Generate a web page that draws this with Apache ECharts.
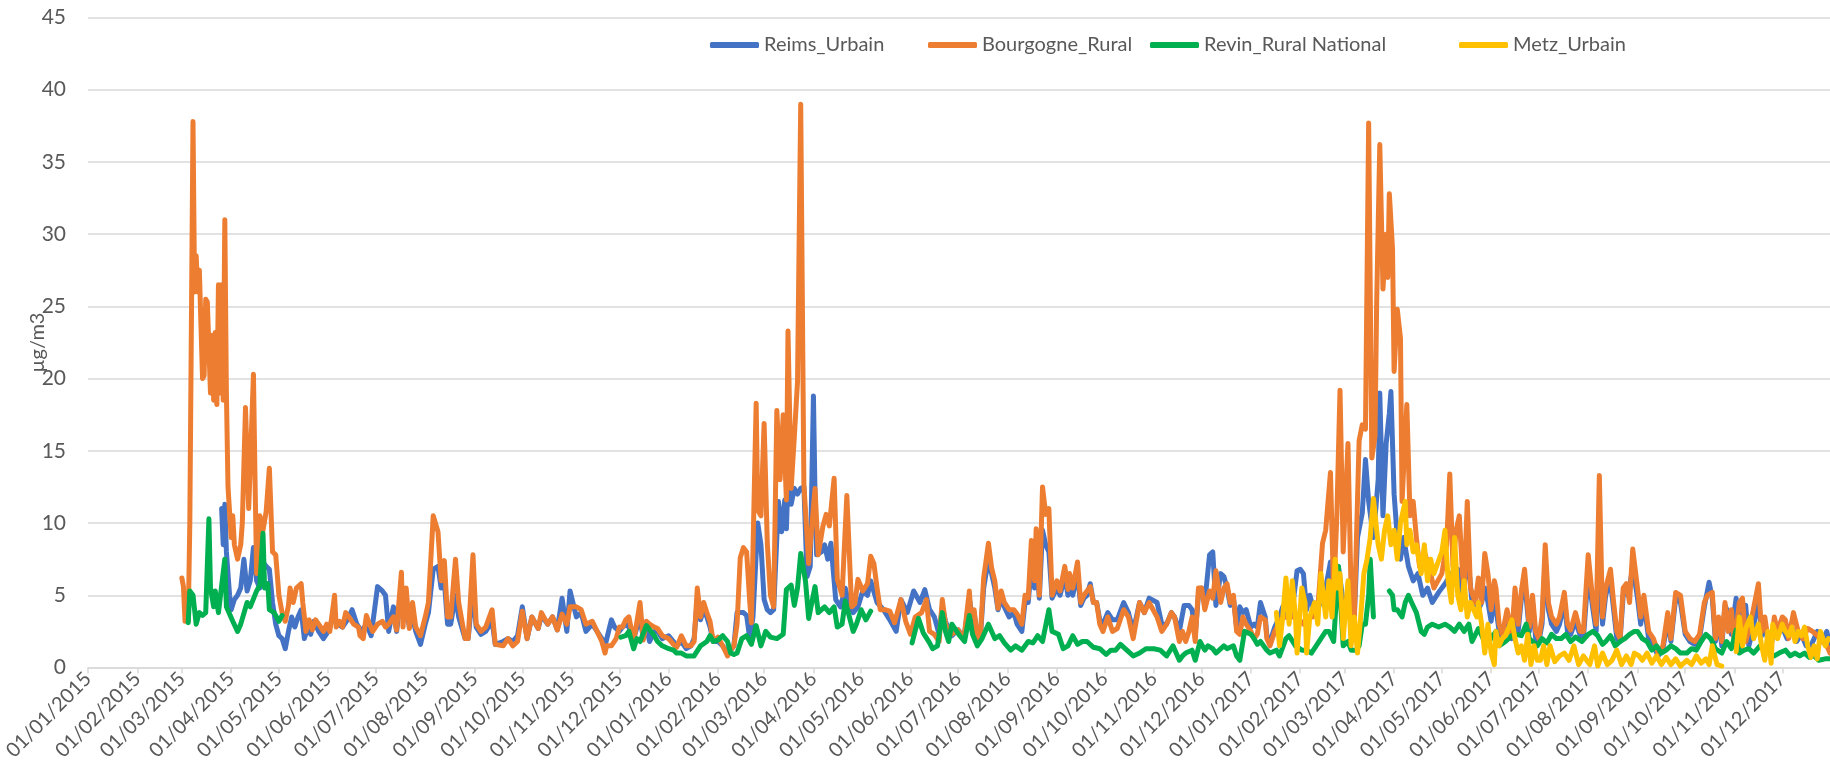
<!DOCTYPE html>
<html>
<head>
<meta charset="utf-8">
<script src="https://cdn.jsdelivr.net/npm/echarts@6/dist/echarts.min.js"></script>
<style>
  html, body { margin: 0; padding: 0; background: #fff; }
  #main { width: 1830px; height: 770px; }
</style>
</head>
<body>
<div id="main"></div>
<script>
// series names and colours, same order as the legend
var seriesNames = ['Reims_Urbain', 'Bourgogne_Rural', 'Revin_Rural National', 'Metz_Urbain'];
var seriesColors = ['#4472C4', '#ED7D31', '#00B050', '#FFC000'];

// y axis
var yMin = 0, yMax = 45, yStep = 5;

// values, [date, µg/m3]; null = gap in the record
var reims = [
  ['2015-03-26',11.0],['2015-03-27',8.5],['2015-03-28',11.3],['2015-03-29',8.0],['2015-03-31',5.0],
  ['2015-04-01',4.0],['2015-04-03',4.7],['2015-04-05',5.0],['2015-04-07',5.5],['2015-04-09',7.5],['2015-04-11',5.3],
  ['2015-04-13',6.0],['2015-04-15',8.3],['2015-04-17',6.0],['2015-04-19',5.5],['2015-04-21',7.3],['2015-04-23',7.0],
  ['2015-04-25',6.8],['2015-04-27',4.5],['2015-04-29',3.0],['2015-05-01',2.2],['2015-05-03',2.0],['2015-05-05',1.3],
  ['2015-05-07',2.5],['2015-05-09',3.5],['2015-05-11',2.8],['2015-05-13',3.5],['2015-05-15',4.0],['2015-05-17',2.0],
  ['2015-05-19',2.7],['2015-05-21',2.3],['2015-05-23',3.2],['2015-05-26',2.5],['2015-05-29',2.0],['2015-06-01',2.5],
  ['2015-06-04',3.5],['2015-06-07',3.0],['2015-06-10',2.8],['2015-06-13',3.3],['2015-06-16',4.0],['2015-06-19',3.0],
  ['2015-06-22',2.5],['2015-06-25',3.0],['2015-06-28',2.2],['2015-07-02',5.6],['2015-07-05',5.3],['2015-07-07',5.0],
  ['2015-07-09',2.5],['2015-07-12',4.2],['2015-07-14',2.5],['2015-07-17',5.5],['2015-07-20',4.5],['2015-07-22',2.8],
  ['2015-07-24',3.5],['2015-07-26',2.5],['2015-07-29',1.6],['2015-08-01',3.0],['2015-08-03',3.8],['2015-08-06',6.8],
  ['2015-08-09',7.0],['2015-08-11',5.5],['2015-08-13',6.0],['2015-08-15',3.0],['2015-08-17',3.0],['2015-08-20',5.0],
  ['2015-08-22',3.5],['2015-08-26',2.0],['2015-08-28',2.0],['2015-08-31',5.5],['2015-09-02',2.8],['2015-09-05',2.3],
  ['2015-09-08',2.5],['2015-09-12',3.2],['2015-09-14',1.6],['2015-09-19',1.8],['2015-09-22',2.0],['2015-09-25',1.8],
  ['2015-09-28',2.2],['2015-10-01',4.2],['2015-10-04',2.0],['2015-10-07',3.5],['2015-10-11',2.7],['2015-10-13',3.6],
  ['2015-10-17',3.0],['2015-10-20',3.5],['2015-10-23',2.6],['2015-10-26',4.8],['2015-10-29',2.5],['2015-10-31',5.3],
  ['2015-11-04',3.5],['2015-11-07',3.8],['2015-11-10',2.5],['2015-11-14',3.0],['2015-11-17',2.5],['2015-11-20',2.0],
  ['2015-11-22',1.5],['2015-11-26',3.3],['2015-11-28',2.8],['2015-12-01',2.5],['2015-12-03',2.8],['2015-12-05',3.0],
  ['2015-12-07',2.8],['2015-12-10',2.0],['2015-12-14',3.5],['2015-12-16',2.0],['2015-12-18',2.8],['2015-12-20',1.8],
  ['2015-12-23',2.5],['2015-12-25',2.5],['2015-12-28',2.0],
  ['2016-01-01',2.2],['2016-01-04',1.8],['2016-01-06',1.5],['2016-01-09',1.8],['2016-01-12',1.3],['2016-01-15',1.5],
  ['2016-01-17',2.0],['2016-01-19',4.8],['2016-01-21',3.3],['2016-01-23',4.0],['2016-01-25',3.5],['2016-01-27',2.8],
  ['2016-01-29',1.8],['2016-02-01',1.8],['2016-02-04',1.5],['2016-02-07',1.0],['2016-02-09',1.2],['2016-02-11',1.5],
  ['2016-02-13',3.8],['2016-02-15',3.8],['2016-02-17',3.8],['2016-02-19',3.6],['2016-02-21',2.0],['2016-02-23',3.5],
  ['2016-02-26',10.0],['2016-02-28',8.5],['2016-03-01',4.7],['2016-03-03',4.0],['2016-03-05',3.8],['2016-03-07',4.0],
  ['2016-03-10',11.5],['2016-03-12',9.4],['2016-03-14',11.6],['2016-03-15',9.6],['2016-03-16',13.0],['2016-03-18',11.3],
  ['2016-03-20',12.4],['2016-03-22',12.0],['2016-03-24',12.4],['2016-03-26',12.5],['2016-03-28',6.3],['2016-03-30',7.0],
  ['2016-04-01',18.8],['2016-04-02',12.0],['2016-04-03',7.8],['2016-04-06',8.0],['2016-04-08',8.5],['2016-04-10',7.5],
  ['2016-04-12',8.6],['2016-04-15',4.7],['2016-04-18',4.2],['2016-04-21',5.5],['2016-04-23',4.5],['2016-04-26',3.8],
  ['2016-04-29',4.2],['2016-05-02',5.3],['2016-05-05',5.0],['2016-05-07',6.0],['2016-05-11',4.5],['2016-05-15',4.0],
  ['2016-05-19',3.3],['2016-05-23',2.5],['2016-05-26',4.7],['2016-05-30',3.8],['2016-06-03',5.3],['2016-06-07',4.5],
  ['2016-06-10',5.4],['2016-06-13',4.0],['2016-06-16',3.5],['2016-06-19',2.3],['2016-06-21',4.2],['2016-06-23',3.2],
  ['2016-06-25',2.6],['2016-06-27',2.2],['2016-07-01',2.6],['2016-07-03',2.3],['2016-07-05',2.3],['2016-07-08',4.8],
  ['2016-07-10',3.3],['2016-07-11',3.8],['2016-07-13',2.0],['2016-07-15',2.2],['2016-07-17',5.5],['2016-07-20',7.5],
  ['2016-07-22',6.5],['2016-07-24',5.5],['2016-07-26',4.0],['2016-07-28',4.8],['2016-07-30',4.2],['2016-08-02',3.5],
  ['2016-08-05',3.8],['2016-08-07',3.0],['2016-08-10',2.5],['2016-08-12',4.5],['2016-08-14',4.5],['2016-08-16',7.0],
  ['2016-08-18',5.5],['2016-08-19',8.0],['2016-08-21',4.8],['2016-08-23',9.5],['2016-08-25',8.5],['2016-08-27',8.0],
  ['2016-08-29',4.8],['2016-09-01',5.5],['2016-09-03',5.0],['2016-09-06',6.3],['2016-09-08',5.0],['2016-09-09',6.0],
  ['2016-09-11',5.0],['2016-09-14',6.5],['2016-09-16',4.3],['2016-09-18',4.8],['2016-09-20',5.0],['2016-09-22',5.8],
  ['2016-09-24',4.5],['2016-09-26',4.5],['2016-09-28',3.3],['2016-09-30',3.0],['2016-10-03',3.8],['2016-10-06',3.3],
  ['2016-10-09',3.3],['2016-10-13',4.5],['2016-10-16',3.8],['2016-10-19',2.5],['2016-10-23',4.5],['2016-10-26',3.8],
  ['2016-10-29',4.8],['2016-11-03',4.5],['2016-11-06',3.0],['2016-11-09',3.0],['2016-11-12',3.8],['2016-11-14',3.5],
  ['2016-11-17',2.5],['2016-11-20',4.3],['2016-11-23',4.3],['2016-11-25',4.0],['2016-11-27',2.3],['2016-11-29',5.0],
  ['2016-12-01',5.5],['2016-12-03',4.5],['2016-12-06',7.8],['2016-12-08',8.0],['2016-12-10',4.3],['2016-12-13',6.5],
  ['2016-12-15',6.3],['2016-12-17',5.5],['2016-12-19',4.3],['2016-12-21',4.8],['2016-12-23',2.8],['2016-12-25',4.2],
  ['2016-12-27',3.8],['2016-12-29',4.0],
  ['2017-01-01',2.8],['2017-01-03',3.0],['2017-01-05',2.8],['2017-01-07',4.5],['2017-01-10',3.5],['2017-01-11',2.2],
  ['2017-01-13',1.8],['2017-01-16',2.8],['2017-01-19',3.5],['2017-01-21',4.2],['2017-01-23',3.5],['2017-01-25',3.5],
  ['2017-01-27',4.0],['2017-01-30',6.7],['2017-02-01',6.8],['2017-02-03',6.5],['2017-02-05',4.0],['2017-02-07',5.0],
  ['2017-02-09',4.2],['2017-02-12',4.0],['2017-02-15',5.0],['2017-02-17',5.5],['2017-02-20',7.3],['2017-02-22',5.5],
  ['2017-02-25',7.0],['2017-02-28',4.5],['2017-03-03',4.5],['2017-03-05',4.0],['2017-03-07',3.5],['2017-03-09',9.0],
  ['2017-03-12',10.7],['2017-03-14',14.4],['2017-03-16',11.5],['2017-03-19',9.0],['2017-03-22',13.0],['2017-03-23',19.0],
  ['2017-03-25',10.5],['2017-03-27',15.5],['2017-03-29',17.6],['2017-03-30',19.1],['2017-04-01',12.0],['2017-04-03',9.0],
  ['2017-04-05',7.5],['2017-04-07',9.0],['2017-04-10',7.0],['2017-04-13',6.0],['2017-04-16',6.5],['2017-04-19',5.0],
  ['2017-04-22',5.5],['2017-04-25',4.5],['2017-04-29',5.2],['2017-05-03',5.8],['2017-05-07',6.5],['2017-05-11',6.8],
  ['2017-05-14',4.5],['2017-05-17',8.0],['2017-05-20',4.5],['2017-05-24',4.0],['2017-05-26',4.5],['2017-05-28',5.5],
  ['2017-05-30',4.5],['2017-06-01',3.2],['2017-06-03',5.0],['2017-06-06',2.5],['2017-06-08',2.0],['2017-06-11',3.5],
  ['2017-06-14',2.0],['2017-06-16',4.8],['2017-06-18',2.5],['2017-06-20',4.8],['2017-06-22',6.0],['2017-06-25',2.5],
  ['2017-06-27',4.5],['2017-06-29',2.0],['2017-07-01',1.8],['2017-07-03',3.0],['2017-07-05',7.5],['2017-07-07',4.0],
  ['2017-07-09',3.0],['2017-07-12',2.5],['2017-07-14',3.0],['2017-07-17',4.5],['2017-07-19',2.5],['2017-07-21',2.3],
  ['2017-07-24',3.2],['2017-07-27',2.2],['2017-07-29',2.0],['2017-08-01',6.5],['2017-08-04',4.0],['2017-08-06',2.5],
  ['2017-08-08',8.0],['2017-08-10',3.0],['2017-08-12',5.0],['2017-08-15',6.0],['2017-08-17',4.0],['2017-08-19',2.0],
  ['2017-08-21',1.8],['2017-08-23',5.0],['2017-08-25',5.2],['2017-08-27',5.5],['2017-08-29',7.0],['2017-09-01',4.8],
  ['2017-09-03',3.0],['2017-09-05',4.5],['2017-09-08',2.0],['2017-09-11',1.5],['2017-09-14',0.8],['2017-09-17',1.3],
  ['2017-09-20',3.3],['2017-09-22',1.8],['2017-09-25',4.8],['2017-09-28',4.5],['2017-10-01',2.3],['2017-10-04',1.8],
  ['2017-10-07',1.6],['2017-10-10',2.0],['2017-10-13',4.2],['2017-10-16',5.9],['2017-10-18',4.8],['2017-10-20',1.8],
  ['2017-10-22',3.3],['2017-10-24',1.5],['2017-10-26',4.3],['2017-10-28',3.8],['2017-10-30',2.3],['2017-11-02',4.8],
  ['2017-11-04',1.3],['2017-11-06',4.0],['2017-11-08',4.3],['2017-11-10',1.5],['2017-11-13',2.8],['2017-11-16',5.0],
  ['2017-11-18',2.2],['2017-11-20',3.0],['2017-11-22',1.8],['2017-11-24',1.5],['2017-11-26',3.0],['2017-11-28',2.3],
  ['2017-12-01',2.8],['2017-12-04',2.0],['2017-12-07',2.8],['2017-12-10',1.8],['2017-12-13',2.3],['2017-12-16',1.5],
  ['2017-12-19',1.5],['2017-12-23',2.5],['2017-12-26',1.8],['2017-12-29',2.5],['2017-12-31',1.5]
];

var bourgogne = [
  ['2015-03-01',6.2],['2015-03-02',5.6],['2015-03-03',3.2],['2015-03-05',3.2],['2015-03-06',10.0],['2015-03-08',37.8],
  ['2015-03-09',26.0],['2015-03-10',28.5],['2015-03-11',26.0],['2015-03-12',27.5],['2015-03-14',20.0],['2015-03-15',20.2],
  ['2015-03-16',25.5],['2015-03-17',25.3],['2015-03-19',19.0],['2015-03-20',23.0],['2015-03-21',18.5],['2015-03-22',23.2],
  ['2015-03-23',18.2],['2015-03-24',26.5],['2015-03-25',19.0],['2015-03-26',26.5],['2015-03-27',18.5],['2015-03-28',31.0],
  ['2015-03-29',19.0],['2015-03-30',12.5],['2015-04-01',9.0],['2015-04-02',10.5],['2015-04-03',8.5],['2015-04-05',7.5],
  ['2015-04-07',8.5],['2015-04-08',10.0],['2015-04-10',18.0],['2015-04-12',11.0],['2015-04-13',14.0],['2015-04-15',20.3],
  ['2015-04-16',13.0],['2015-04-17',6.5],['2015-04-19',10.5],['2015-04-21',9.5],['2015-04-23',10.8],['2015-04-25',13.8],
  ['2015-04-27',8.0],['2015-04-29',7.8],['2015-05-01',5.0],['2015-05-03',3.8],['2015-05-05',3.2],['2015-05-07',4.3],
  ['2015-05-08',5.5],['2015-05-10',4.5],['2015-05-12',5.5],['2015-05-15',5.8],['2015-05-16',4.5],['2015-05-18',2.5],
  ['2015-05-20',3.3],['2015-05-22',2.6],['2015-05-24',3.3],['2015-05-26',3.0],['2015-05-29',2.5],['2015-05-31',3.0],
  ['2015-06-02',2.5],['2015-06-05',5.0],['2015-06-06',2.8],['2015-06-08',3.2],['2015-06-10',2.8],['2015-06-12',3.8],
  ['2015-06-14',3.5],['2015-06-17',3.0],['2015-06-20',2.8],['2015-06-21',2.2],['2015-06-23',2.0],['2015-06-25',3.6],
  ['2015-06-27',3.0],['2015-06-29',2.5],['2015-07-02',3.0],['2015-07-05',3.2],['2015-07-07',2.8],['2015-07-09',3.0],
  ['2015-07-12',3.5],['2015-07-14',2.6],['2015-07-17',6.6],['2015-07-18',2.8],['2015-07-20',5.5],['2015-07-22',2.7],
  ['2015-07-24',4.5],['2015-07-26',2.8],['2015-07-29',2.2],['2015-08-01',3.5],['2015-08-03',4.5],['2015-08-06',10.5],
  ['2015-08-09',9.4],['2015-08-11',6.0],['2015-08-13',7.4],['2015-08-15',3.5],['2015-08-17',3.5],['2015-08-20',7.5],
  ['2015-08-22',4.5],['2015-08-26',2.0],['2015-08-28',2.0],['2015-08-31',7.8],['2015-09-02',3.0],['2015-09-05',2.5],
  ['2015-09-08',2.8],['2015-09-12',4.0],['2015-09-14',1.6],['2015-09-19',1.5],['2015-09-22',2.0],['2015-09-25',1.5],
  ['2015-09-28',1.8],['2015-10-01',3.9],['2015-10-04',2.0],['2015-10-07',3.5],['2015-10-11',2.7],['2015-10-13',3.8],
  ['2015-10-17',3.0],['2015-10-20',3.5],['2015-10-23',2.6],['2015-10-26',3.7],['2015-10-29',3.0],['2015-10-31',4.2],
  ['2015-11-04',4.2],['2015-11-07',4.0],['2015-11-10',3.0],['2015-11-14',3.2],['2015-11-17',2.5],['2015-11-20',1.8],
  ['2015-11-22',1.0],['2015-11-23',1.5],['2015-11-26',1.5],['2015-11-29',2.0],['2015-12-01',2.8],['2015-12-03',2.8],
  ['2015-12-05',3.3],['2015-12-07',3.5],['2015-12-10',1.8],['2015-12-14',4.5],['2015-12-16',1.9],['2015-12-18',3.2],
  ['2015-12-20',3.0],['2015-12-23',2.8],['2015-12-25',2.7],['2015-12-28',2.2],
  ['2016-01-01',2.0],['2016-01-04',1.6],['2016-01-06',1.4],['2016-01-09',2.2],['2016-01-12',1.5],['2016-01-15',1.5],
  ['2016-01-17',1.8],['2016-01-19',5.5],['2016-01-21',3.5],['2016-01-23',4.5],['2016-01-25',3.8],['2016-01-27',3.2],
  ['2016-01-29',1.8],['2016-02-01',2.1],['2016-02-04',1.5],['2016-02-07',0.8],['2016-02-09',1.2],['2016-02-11',1.5],
  ['2016-02-13',3.0],['2016-02-15',7.6],['2016-02-17',8.3],['2016-02-19',8.0],['2016-02-21',4.5],['2016-02-22',3.1],
  ['2016-02-25',18.3],['2016-02-26',10.9],['2016-02-28',10.5],['2016-03-01',16.9],['2016-03-03',8.6],['2016-03-05',5.0],
  ['2016-03-07',4.2],['2016-03-09',17.8],['2016-03-11',13.0],['2016-03-13',17.5],['2016-03-15',11.6],['2016-03-16',23.3],
  ['2016-03-18',12.4],['2016-03-20',16.0],['2016-03-22',19.8],['2016-03-24',39.0],['2016-03-26',12.7],['2016-03-29',7.2],
  ['2016-04-02',12.4],['2016-04-04',7.8],['2016-04-07',9.8],['2016-04-09',10.6],['2016-04-11',9.8],['2016-04-14',13.1],
  ['2016-04-16',6.1],['2016-04-19',5.0],['2016-04-22',11.9],['2016-04-25',4.2],['2016-04-27',4.4],['2016-04-29',6.1],
  ['2016-05-02',5.3],['2016-05-05',5.8],['2016-05-07',7.7],['2016-05-09',7.2],['2016-05-11',5.5],['2016-05-13',4.0],
  ['2016-05-16',4.0],['2016-05-19',3.9],['2016-05-22',3.1],['2016-05-26',4.7],['2016-05-29',3.2],['2016-06-01',2.3],
  ['2016-06-04',3.5],['2016-06-08',3.8],['2016-06-11',4.7],['2016-06-13',2.5],['2016-06-16',2.3],['2016-06-19',1.8],
  ['2016-06-21',4.7],['2016-06-23',3.0],['2016-06-25',2.5],['2016-06-27',2.3],['2016-07-01',2.6],['2016-07-03',2.2],
  ['2016-07-05',2.4],['2016-07-08',5.3],['2016-07-09',3.5],['2016-07-11',4.0],['2016-07-13',2.0],['2016-07-15',2.3],
  ['2016-07-17',6.2],['2016-07-20',8.6],['2016-07-22',6.9],['2016-07-24',6.0],['2016-07-26',4.1],['2016-07-28',5.3],
  ['2016-07-30',4.5],['2016-08-02',4.0],['2016-08-05',4.0],['2016-08-07',3.7],['2016-08-10',3.0],['2016-08-12',5.0],
  ['2016-08-14',4.8],['2016-08-16',8.8],['2016-08-18',6.0],['2016-08-19',9.6],['2016-08-21',5.0],['2016-08-23',12.5],
  ['2016-08-25',10.6],['2016-08-27',11.0],['2016-08-29',5.0],['2016-09-01',6.0],['2016-09-03',5.3],['2016-09-06',7.0],
  ['2016-09-08',5.4],['2016-09-09',6.5],['2016-09-11',5.5],['2016-09-14',7.3],['2016-09-16',4.5],['2016-09-18',5.0],
  ['2016-09-22',5.6],['2016-09-24',4.5],['2016-09-26',4.5],['2016-09-28',3.0],['2016-09-30',2.5],['2016-10-03',3.5],
  ['2016-10-06',2.5],['2016-10-09',2.7],['2016-10-13',4.0],['2016-10-16',3.5],['2016-10-19',2.0],['2016-10-23',4.5],
  ['2016-10-26',3.8],['2016-10-29',4.5],['2016-11-03',3.5],['2016-11-06',2.5],['2016-11-09',3.0],['2016-11-12',3.8],
  ['2016-11-14',3.5],['2016-11-17',1.8],['2016-11-19',2.5],['2016-11-21',1.8],['2016-11-23',2.5],['2016-11-25',3.5],
  ['2016-11-27',1.8],['2016-11-29',5.5],['2016-12-01',5.5],['2016-12-03',4.0],['2016-12-06',5.3],['2016-12-08',4.8],
  ['2016-12-10',6.7],['2016-12-13',4.5],['2016-12-15',5.5],['2016-12-17',5.8],['2016-12-19',4.5],['2016-12-21',5.0],
  ['2016-12-23',2.5],['2016-12-25',2.3],['2016-12-27',3.5],['2016-12-29',3.0],
  ['2017-01-01',2.5],['2017-01-03',2.0],['2017-01-05',2.3],['2017-01-07',3.5],['2017-01-10',3.3],['2017-01-11',2.0],
  ['2017-01-13',1.5],['2017-01-16',2.5],['2017-01-21',3.5],['2017-01-25',3.5],['2017-01-30',3.5],['2017-02-03',3.0],
  ['2017-02-06',3.5],['2017-02-09',3.5],['2017-02-12',4.0],['2017-02-15',8.6],['2017-02-17',9.5],['2017-02-20',13.5],
  ['2017-02-22',5.0],['2017-02-24',10.5],['2017-02-26',19.2],['2017-02-28',8.0],['2017-03-03',15.5],['2017-03-05',5.0],
  ['2017-03-07',3.5],['2017-03-10',15.7],['2017-03-12',16.8],['2017-03-14',16.5],['2017-03-16',37.7],['2017-03-18',14.5],
  ['2017-03-20',16.0],['2017-03-21',25.0],['2017-03-23',36.2],['2017-03-25',26.2],['2017-03-27',30.0],['2017-03-28',27.0],
  ['2017-03-29',32.8],['2017-03-31',29.0],['2017-04-01',20.5],['2017-04-03',24.8],['2017-04-05',22.8],['2017-04-06',11.5],
  ['2017-04-09',18.2],['2017-04-11',10.5],['2017-04-13',11.5],['2017-04-15',9.0],['2017-04-17',7.0],['2017-04-20',8.0],
  ['2017-04-23',7.0],['2017-04-26',5.5],['2017-05-01',6.5],['2017-05-04',8.5],['2017-05-06',13.4],['2017-05-08',7.0],
  ['2017-05-10',9.5],['2017-05-12',10.5],['2017-05-14',6.5],['2017-05-15',5.5],['2017-05-17',11.5],['2017-05-19',5.5],
  ['2017-05-22',4.5],['2017-05-24',6.2],['2017-05-26',4.5],['2017-05-28',7.9],['2017-05-30',6.5],['2017-06-01',4.0],
  ['2017-06-03',6.0],['2017-06-04',5.5],['2017-06-06',3.0],['2017-06-08',2.3],['2017-06-11',4.0],['2017-06-14',2.2],
  ['2017-06-16',5.5],['2017-06-18',3.0],['2017-06-20',5.3],['2017-06-22',6.8],['2017-06-25',2.8],['2017-06-27',5.0],
  ['2017-06-29',2.5],['2017-07-01',2.0],['2017-07-03',3.5],['2017-07-05',8.5],['2017-07-07',4.5],['2017-07-09',3.5],
  ['2017-07-12',3.0],['2017-07-14',3.5],['2017-07-17',5.2],['2017-07-19',3.0],['2017-07-21',2.6],['2017-07-24',3.8],
  ['2017-07-27',2.5],['2017-07-29',2.5],['2017-08-01',7.8],['2017-08-04',4.5],['2017-08-06',3.0],['2017-08-08',13.3],
  ['2017-08-10',3.5],['2017-08-12',5.5],['2017-08-15',6.8],['2017-08-17',4.5],['2017-08-19',2.5],['2017-08-21',2.0],
  ['2017-08-23',5.5],['2017-08-25',5.8],['2017-08-27',4.5],['2017-08-29',8.2],['2017-09-01',5.5],['2017-09-03',3.5],
  ['2017-09-05',5.0],['2017-09-08',2.5],['2017-09-11',2.0],['2017-09-14',1.0],['2017-09-17',1.5],['2017-09-20',3.8],
  ['2017-09-22',2.0],['2017-09-25',5.2],['2017-09-28',5.0],['2017-10-01',2.5],['2017-10-04',2.0],['2017-10-07',1.8],
  ['2017-10-10',2.3],['2017-10-13',4.5],['2017-10-15',5.0],['2017-10-18',5.2],['2017-10-20',2.0],['2017-10-22',3.5],
  ['2017-10-24',1.8],['2017-10-26',4.5],['2017-10-28',2.5],['2017-10-30',4.0],['2017-11-01',1.5],['2017-11-04',4.5],
  ['2017-11-06',4.8],['2017-11-08',1.8],['2017-11-11',3.0],['2017-11-16',5.8],['2017-11-18',2.5],['2017-11-20',3.5],
  ['2017-11-22',2.0],['2017-11-24',1.5],['2017-11-26',3.5],['2017-11-28',2.5],['2017-12-01',3.5],['2017-12-03',3.3],
  ['2017-12-05',2.0],['2017-12-08',3.8],['2017-12-11',2.5],['2017-12-14',2.0],['2017-12-17',2.7],['2017-12-20',2.5],
  ['2017-12-23',2.2],['2017-12-26',1.8],['2017-12-29',1.5],['2017-12-31',1.0]
];

var revin = [
  ['2015-03-05',3.1],['2015-03-06',5.3],['2015-03-08',5.0],['2015-03-10',3.0],['2015-03-12',3.8],['2015-03-14',3.6],
  ['2015-03-16',3.8],['2015-03-18',10.3],['2015-03-19',5.5],['2015-03-21',4.2],['2015-03-22',5.3],['2015-03-24',3.8],
  ['2015-03-28',7.5],['2015-03-29',4.2],['2015-04-02',3.2],['2015-04-05',2.5],['2015-04-07',3.0],['2015-04-11',4.5],
  ['2015-04-13',4.2],['2015-04-17',5.3],['2015-04-19',5.7],['2015-04-21',9.3],['2015-04-22',5.5],['2015-04-24',5.8],
  ['2015-04-25',4.0],['2015-04-28',3.8],['2015-05-01',3.2],['2015-05-03',3.6],['2015-05-04',null],
  ['2015-12-02',2.1],['2015-12-05',2.2],['2015-12-07',2.5],['2015-12-10',1.3],['2015-12-12',2.0],['2015-12-14',1.8],
  ['2015-12-18',2.9],['2015-12-23',2.2],['2015-12-25',1.8],['2015-12-28',1.5],
  ['2016-01-01',1.3],['2016-01-04',1.2],['2016-01-06',1.0],['2016-01-09',1.0],['2016-01-12',0.8],['2016-01-15',0.8],
  ['2016-01-17',0.8],['2016-01-21',1.5],['2016-01-25',1.8],['2016-01-27',2.2],['2016-01-29',1.8],['2016-02-01',1.9],
  ['2016-02-04',2.2],['2016-02-07',1.8],['2016-02-09',1.0],['2016-02-11',0.9],['2016-02-13',1.0],['2016-02-16',2.0],
  ['2016-02-19',2.2],['2016-02-22',1.6],['2016-02-25',2.9],['2016-02-28',1.5],['2016-03-02',2.5],['2016-03-05',2.1],
  ['2016-03-09',2.0],['2016-03-13',2.3],['2016-03-15',5.4],['2016-03-18',5.7],['2016-03-20',4.3],['2016-03-22',5.5],
  ['2016-03-24',7.9],['2016-03-27',6.0],['2016-03-29',3.4],['2016-04-02',5.6],['2016-04-04',3.8],['2016-04-08',4.2],
  ['2016-04-11',3.8],['2016-04-14',4.2],['2016-04-16',2.8],['2016-04-19',3.0],['2016-04-21',4.6],['2016-04-26',2.5],
  ['2016-04-28',3.0],['2016-05-01',4.0],['2016-05-04',3.3],['2016-05-07',3.9],['2016-05-08',null],
  ['2016-06-02',1.7],['2016-06-06',3.4],['2016-06-09',2.4],['2016-06-13',1.7],['2016-06-15',1.3],['2016-06-18',1.5],
  ['2016-06-21',3.8],['2016-06-23',2.5],['2016-06-25',1.8],['2016-06-27',3.0],['2016-07-02',2.2],['2016-07-05',1.8],
  ['2016-07-08',3.6],['2016-07-10',2.3],['2016-07-13',1.5],['2016-07-16',2.0],['2016-07-20',3.0],['2016-07-24',2.0],
  ['2016-07-27',2.2],['2016-07-30',1.7],['2016-08-03',1.2],['2016-08-06',1.5],['2016-08-10',1.2],['2016-08-14',1.8],
  ['2016-08-17',1.7],['2016-08-20',2.2],['2016-08-23',1.8],['2016-08-27',4.0],['2016-08-29',2.5],['2016-09-02',2.3],
  ['2016-09-05',1.3],['2016-09-08',1.5],['2016-09-11',2.2],['2016-09-14',1.6],['2016-09-17',1.8],['2016-09-20',1.8],
  ['2016-09-24',1.4],['2016-09-28',1.3],['2016-10-02',0.9],['2016-10-05',1.2],['2016-10-08',1.2],['2016-10-11',1.6],
  ['2016-10-15',1.2],['2016-10-19',0.8],['2016-10-23',1.0],['2016-10-27',1.3],['2016-11-01',1.3],['2016-11-05',1.2],
  ['2016-11-09',0.8],['2016-11-13',1.5],['2016-11-17',0.5],['2016-11-19',0.8],['2016-11-21',1.0],['2016-11-25',1.2],
  ['2016-11-27',0.5],['2016-11-30',1.8],['2016-12-03',1.2],['2016-12-05',1.5],['2016-12-08',1.3],['2016-12-10',1.0],
  ['2016-12-15',1.5],['2016-12-17',1.3],['2016-12-21',1.5],['2016-12-23',0.8],['2016-12-25',0.5],['2016-12-28',2.5],
  ['2017-01-01',2.3],['2017-01-03',2.0],['2017-01-05',1.6],['2017-01-07',1.8],['2017-01-11',1.2],['2017-01-13',1.0],
  ['2017-01-17',1.2],['2017-01-19',0.8],['2017-01-23',2.0],['2017-01-25',2.2],['2017-01-29',1.5],['2017-02-02',1.2],
  ['2017-02-05',1.2],['2017-02-08',1.0],['2017-02-11',1.5],['2017-02-14',2.0],['2017-02-17',2.5],['2017-02-19',2.5],
  ['2017-02-22',1.8],['2017-02-25',7.0],['2017-02-28',1.5],['2017-03-03',1.8],['2017-03-05',1.2],['2017-03-08',1.2],
  ['2017-03-10',1.5],['2017-03-12',3.0],['2017-03-14',3.0],['2017-03-16',5.0],['2017-03-17',7.5],['2017-03-18',5.5],
  ['2017-03-19',3.5],['2017-03-20',null],
  ['2017-03-29',5.3],['2017-03-31',5.0],['2017-04-01',4.0],['2017-04-03',4.0],['2017-04-06',3.5],['2017-04-08',4.5],
  ['2017-04-10',5.0],['2017-04-12',4.5],['2017-04-15',3.8],['2017-04-18',2.5],['2017-04-20',2.3],['2017-04-22',2.8],
  ['2017-04-25',3.0],['2017-04-29',2.8],['2017-05-03',3.0],['2017-05-06',2.8],['2017-05-09',2.5],['2017-05-12',3.0],
  ['2017-05-15',2.5],['2017-05-18',3.0],['2017-05-20',1.8],['2017-05-24',2.7],['2017-05-27',2.0],['2017-05-30',2.5],
  ['2017-06-01',2.0],['2017-06-04',2.5],['2017-06-06',1.5],['2017-06-10',1.8],['2017-06-14',2.2],['2017-06-17',2.3],
  ['2017-06-20',2.2],['2017-06-23',3.0],['2017-06-25',2.0],['2017-06-27',1.8],['2017-06-30',1.5],['2017-07-03',2.0],
  ['2017-07-06',1.7],['2017-07-09',2.3],['2017-07-12',2.0],['2017-07-15',2.0],['2017-07-18',2.3],['2017-07-21',1.8],
  ['2017-07-24',2.1],['2017-07-28',1.8],['2017-08-01',2.3],['2017-08-04',2.5],['2017-08-07',2.2],['2017-08-10',1.6],
  ['2017-08-12',1.8],['2017-08-15',2.2],['2017-08-18',1.5],['2017-08-21',1.8],['2017-08-24',2.0],['2017-08-27',2.3],
  ['2017-08-30',2.5],['2017-09-01',2.5],['2017-09-04',2.0],['2017-09-07',1.8],['2017-09-10',1.2],['2017-09-13',1.5],
  ['2017-09-16',1.0],['2017-09-19',1.2],['2017-09-22',1.5],['2017-09-25',1.3],['2017-09-28',1.0],['2017-10-02',1.0],
  ['2017-10-05',1.3],['2017-10-08',1.2],['2017-10-11',1.8],['2017-10-14',2.3],['2017-10-17',2.0],['2017-10-20',1.3],
  ['2017-10-24',1.0],['2017-10-27',1.8],['2017-10-30',1.3],['2017-11-02',2.6],['2017-11-04',1.0],['2017-11-07',1.2],
  ['2017-11-10',1.3],['2017-11-13',1.0],['2017-11-17',1.5],['2017-11-20',1.2],['2017-11-23',1.0],['2017-11-26',0.8],
  ['2017-11-29',1.0],['2017-12-03',1.2],['2017-12-06',0.8],['2017-12-09',1.0],['2017-12-12',0.8],['2017-12-15',1.0],
  ['2017-12-18',0.7],['2017-12-21',0.8],['2017-12-24',0.5],['2017-12-28',0.6],['2017-12-31',0.6]
];

var metz = [
  ['2017-01-17',3.8],['2017-01-19',1.5],['2017-01-21',3.5],['2017-01-23',6.2],['2017-01-25',3.0],['2017-01-27',6.0],
  ['2017-01-29',3.5],['2017-01-30',1.0],['2017-02-02',5.5],['2017-02-04',4.5],['2017-02-05',1.0],['2017-02-07',3.5],
  ['2017-02-10',4.5],['2017-02-12',3.0],['2017-02-14',6.5],['2017-02-16',4.5],['2017-02-17',3.5],['2017-02-19',6.0],
  ['2017-02-21',3.5],['2017-02-23',7.5],['2017-02-24',5.5],['2017-02-26',6.5],['2017-02-28',2.0],['2017-03-03',6.0],
  ['2017-03-05',1.5],['2017-03-07',3.5],['2017-03-09',1.0],['2017-03-11',3.5],['2017-03-13',6.5],['2017-03-15',7.5],
  ['2017-03-17',9.0],['2017-03-19',11.7],['2017-03-22',8.5],['2017-03-24',7.5],['2017-03-26',9.5],['2017-03-28',10.5],
  ['2017-03-30',8.5],['2017-04-01',9.5],['2017-04-03',7.5],['2017-04-05',10.0],['2017-04-08',11.5],['2017-04-09',8.5],
  ['2017-04-11',9.5],['2017-04-13',8.0],['2017-04-15',8.5],['2017-04-18',6.5],['2017-04-20',8.5],['2017-04-22',6.0],
  ['2017-04-24',7.5],['2017-04-26',6.5],['2017-05-01',8.0],['2017-05-03',9.5],['2017-05-05',6.0],['2017-05-07',4.5],
  ['2017-05-09',9.0],['2017-05-11',5.0],['2017-05-13',4.0],['2017-05-15',6.0],['2017-05-17',3.5],['2017-05-19',4.5],
  ['2017-05-23',3.5],['2017-05-24',4.5],['2017-05-26',3.0],['2017-05-28',1.0],['2017-05-30',3.0],['2017-06-01',1.0],
  ['2017-06-03',0.2],['2017-06-04',2.5],['2017-06-06',1.5],['2017-06-08',2.0],['2017-06-10',2.2],['2017-06-13',3.0],
  ['2017-06-14',3.3],['2017-06-16',2.0],['2017-06-18',1.0],['2017-06-20',1.5],['2017-06-22',0.5],['2017-06-24',2.3],
  ['2017-06-26',0.2],['2017-06-28',1.5],['2017-06-30',0.5],['2017-07-02',0.5],['2017-07-04',1.5],['2017-07-06',0.2],
  ['2017-07-08',1.5],['2017-07-11',0.4],['2017-07-14',0.8],['2017-07-17',1.0],['2017-07-20',0.5],['2017-07-23',1.5],
  ['2017-07-26',0.2],['2017-07-29',0.8],['2017-08-02',0.2],['2017-08-05',1.5],['2017-08-07',0.1],['2017-08-10',1.0],
  ['2017-08-13',0.2],['2017-08-16',0.5],['2017-08-19',1.2],['2017-08-22',0.2],['2017-08-25',0.8],['2017-08-28',0.2],
  ['2017-08-30',1.0],['2017-09-02',0.8],['2017-09-04',0.5],['2017-09-07',1.0],['2017-09-10',0.3],['2017-09-13',0.8],
  ['2017-09-16',0.2],['2017-09-19',0.7],['2017-09-22',0.2],['2017-09-25',0.6],['2017-09-28',0.1],['2017-10-02',0.5],
  ['2017-10-05',0.2],['2017-10-08',0.8],['2017-10-11',0.3],['2017-10-14',0.6],['2017-10-16',0.2],['2017-10-18',1.5],
  ['2017-10-21',0.2],['2017-10-24',0.1],['2017-10-25',null],
  ['2017-11-02',1.1],['2017-11-04',3.5],['2017-11-06',1.5],['2017-11-08',2.7],['2017-11-11',3.5],['2017-11-13',2.0],
  ['2017-11-16',3.0],['2017-11-18',1.5],['2017-11-20',0.5],['2017-11-22',2.5],['2017-11-24',0.3],['2017-11-25',3.0],
  ['2017-11-28',2.0],['2017-12-01',3.0],['2017-12-03',2.5],['2017-12-05',2.2],['2017-12-07',2.8],['2017-12-09',1.8],
  ['2017-12-11',2.5],['2017-12-13',2.2],['2017-12-15',2.8],['2017-12-17',1.5],['2017-12-19',0.7],['2017-12-21',1.5],
  ['2017-12-23',0.6],['2017-12-25',2.5],['2017-12-28',1.5],['2017-12-30',2.0]
];

// one category per day, 01/01/2015 .. 31/12/2017
var days = [];
for (var t = Date.UTC(2015, 0, 1); t <= Date.UTC(2017, 11, 31); t += 86400000) {
  days.push(new Date(t).toISOString().slice(0, 10));
}
var isMonthStart = function (idx, val) { return val.slice(8, 10) === '01'; };

var font = 'Lato, "Noto Sans", sans-serif';
var chart = echarts.init(document.getElementById('main'));

// legend entries sit at fixed spots, like in the original
var legendLeft = [710, 928, 1150, 1459];

var option = {
  animation: false,
  color: seriesColors,
  textStyle: { fontFamily: font },
  grid: { left: 88, right: 0, top: 17.5, bottom: 102.5, containLabel: false },
  legend: seriesNames.map(function (n, i) {
    return {
      data: [n],
      left: legendLeft[i],
      top: 35,
      padding: 0,
      icon: 'roundRect',
      itemWidth: 49,
      itemHeight: 6,
      textStyle: { color: '#595959', fontSize: 20, fontFamily: font }
    };
  }),
  xAxis: {
    type: 'category',
    data: days,
    boundaryGap: false,
    axisLine: { lineStyle: { color: '#D9D9D9', width: 1.5 } },
    axisTick: { interval: isMonthStart, length: 6, lineStyle: { color: '#D9D9D9', width: 1.5 } },
    axisLabel: {
      interval: isMonthStart,
      rotate: 45,
      margin: 8,
      color: '#595959',
      fontSize: 20,
      fontFamily: font,
      formatter: function (v) { return v.slice(8, 10) + '/' + v.slice(5, 7) + '/' + v.slice(0, 4); }
    },
    splitLine: { show: false }
  },
  yAxis: {
    type: 'value',
    min: yMin,
    max: yMax,
    interval: yStep,
    name: 'µg/m3',
    nameLocation: 'middle',
    nameGap: 40,
    nameMoveOverlap: false,
    nameTextStyle: { color: '#595959', fontSize: 20, fontFamily: font },
    axisLine: { show: false },
    axisTick: { show: false },
    axisLabel: { color: '#595959', fontSize: 21, fontFamily: font, margin: 22 },
    splitLine: { lineStyle: { color: '#D9D9D9', width: 1.5 } }
  },
  series: [reims, bourgogne, revin, metz].map(function (d, i) {
    return {
      name: seriesNames[i],
      type: 'line',
      data: d,
      showSymbol: false,
      symbol: 'none',
      connectNulls: false,
      lineStyle: { width: 5, color: seriesColors[i], cap: 'round', join: 'round' }
    };
  })
};
chart.setOption(option);
</script>
</body>
</html>
